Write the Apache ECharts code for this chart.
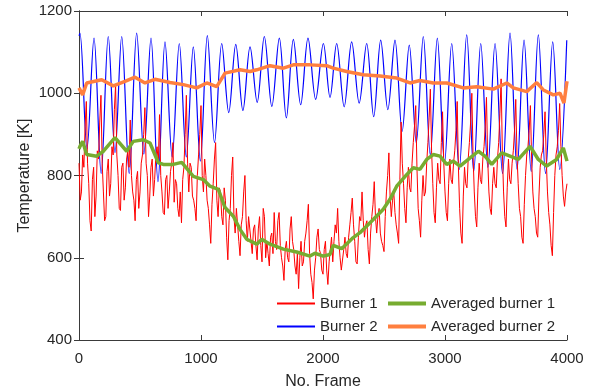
<!DOCTYPE html>
<html>
<head>
<meta charset="utf-8">
<script src="https://cdn.jsdelivr.net/npm/echarts@6/dist/echarts.min.js"></script>
<style>
  html, body { margin: 0; padding: 0; background: #fff; }
  #chart { width: 601px; height: 392px; }
</style>
</head>
<body>
<div id="chart"></div>
<script>
// x ticks / y ticks
const xTicks = [0, 1000, 2000, 3000, 4000]
const yTicks = [400, 600, 800, 1000, 1200]

// Burner 1: one reading every 10 frames (0 .. 4000), 20 readings per row
const burner1Step = 10
const burner1 = [
  830, 740, 760, 850, 820, 920, 980, 830, 780, 690, 665, 790, 820, 700, 750, 860, 840, 930, 995, 830,
  760, 690, 700, 810, 840, 750, 780, 870, 850, 960, 1020, 850, 800, 720, 715, 820, 830, 740, 770, 840,
  860, 820, 935, 800, 760, 740, 690, 790, 810, 720, 760, 830, 850, 900, 965, 830, 800, 700, 750, 820,
  840, 750, 790, 850, 870, 830, 948, 800, 760, 710, 705, 790, 800, 720, 760, 810, 830, 880, 735, 790,
  780, 720, 700, 760, 685, 790, 820, 900, 995, 830, 760, 830, 820, 750, 740, 720, 690, 800, 850, 900,
  970, 800, 760, 840, 800, 740, 720, 680, 635, 730, 780, 840, 880, 740, 700, 770, 760, 700, 680, 770,
  740, 650, 595, 690, 720, 800, 845, 700, 660, 720, 720, 640, 605, 680, 700, 760, 800, 690, 640, 700,
  700, 640, 610, 670, 680, 630, 595, 670, 700, 630, 590, 720, 700, 600, 640, 610, 580, 650, 660, 610,
  710, 640, 620, 690, 710, 630, 600, 580, 545, 620, 640, 600, 590, 670, 700, 640, 620, 580, 560, 610,
  525, 600, 640, 580, 590, 640, 660, 690, 730, 610, 560, 540, 500, 570, 600, 650, 670, 620, 610, 570,
  560, 620, 640, 570, 535, 590, 620, 650, 590, 640, 680, 660, 720, 640, 600, 570, 570, 620, 650, 610,
  600, 650, 680, 710, 745, 680, 640, 590, 585, 650, 700, 690, 760, 690, 650, 680, 690, 620, 585, 660,
  700, 730, 785, 700, 660, 700, 720, 660, 640, 630, 615, 700, 760, 800, 855, 750, 700, 740, 760, 710,
  680, 660, 635, 790, 930, 830, 780, 720, 685, 770, 820, 770, 760, 830, 880, 920, 970, 820, 720, 690,
  650, 740, 800, 750, 760, 830, 880, 940, 1010, 860, 780, 710, 685, 770, 830, 790, 780, 880, 955, 830,
  760, 710, 690, 780, 840, 790, 780, 830, 860, 910, 980, 820, 720, 660, 635, 750, 820, 780, 770, 840,
  880, 930, 1000, 850, 760, 700, 675, 770, 830, 790, 780, 840, 870, 920, 990, 840, 760, 720, 705, 780,
  820, 780, 770, 840, 880, 950, 1035, 860, 760, 700, 675, 770, 840, 790, 780, 830, 860, 910, 985, 850,
  780, 720, 700, 650, 635, 730, 800, 850, 870, 910, 970, 840, 760, 720, 700, 660, 650, 750, 820, 850,
  860, 900, 955, 840, 760, 710, 680, 630, 605, 710, 800, 850, 870, 910, 975, 870, 800, 750, 725, 760,
  780
]

// Burner 2: frames of the crests, crest and trough temperatures
const burner2PeakFrame = [
  8, 123, 240, 350, 473, 590, 705, 822, 937, 1052,
  1170, 1285, 1402, 1519, 1642, 1757, 1877, 2003, 2112, 2235,
  2358, 2473, 2590, 2707, 2822, 2937, 3055, 3178, 3293, 3410,
  3533, 3648, 3765, 3883, 3998
]
const burner2Peak = [
  1146, 1134, 1138, 1138, 1146, 1134, 1125, 1121, 1113, 1140,
  1121, 1119, 1113, 1138, 1134, 1131, 1134, 1121, 1121, 1125,
  1121, 1129, 1129, 1117, 1138, 1134, 1121, 1142, 1121, 1121,
  1146, 1129, 1142, 1125, 1129
]
const burner2Trough = [
  865, 805, 855, 805, 852, 785, 845, 845, 835, 880,
  953, 958, 978, 968, 940, 972, 985, 990, 967, 976,
  943, 960, 907, 880, 850, 830, 815, 810, 820, 805,
  815, 810, 805, 815
]

// Averaged burner 1
const avg1Frame = [
  0, 8, 30, 63, 145, 200, 295, 391, 445, 527,
  582, 650, 691, 773, 842, 937, 1019, 1074, 1142, 1197,
  1265, 1320, 1375, 1457, 1498, 1566, 1675, 1784, 1893, 1934,
  2002, 2057, 2084, 2153, 2248, 2303, 2412, 2494, 2549, 2604,
  2686, 2740, 2795, 2850, 2904, 2959, 3014, 3068, 3123, 3191,
  3273, 3328, 3383, 3465, 3533, 3601, 3697, 3765, 3833, 3915,
  3970, 4000
]
const avg1Temp = [
  865, 871, 883, 851, 847, 859, 892, 859, 883, 887,
  879, 831, 827, 827, 832, 798, 790, 774, 766, 722,
  701, 669, 645, 633, 645, 633, 621, 614, 604, 611,
  604, 608, 630, 622, 649, 661, 693, 718, 742, 774,
  802, 819, 815, 839, 851, 847, 827, 835, 823, 839,
  859, 847, 827, 855, 847, 839, 871, 839, 823, 839,
  867, 835
]

// Averaged burner 2
const avg2Frame = [
  0, 30, 63, 186, 281, 377, 459, 541, 623, 746,
  855, 965, 1047, 1129, 1197, 1320, 1402, 1457, 1566, 1675,
  1757, 1893, 2030, 2084, 2194, 2330, 2467, 2604, 2713, 2795,
  2904, 3014, 3150, 3260, 3396, 3506, 3560, 3670, 3752, 3806,
  3888, 3943, 3975, 4000
]
const avg2Temp = [
  1013, 996, 1025, 1033, 1018, 1029, 1039, 1025, 1034, 1026,
  1021, 1013, 1025, 1016, 1049, 1057, 1053, 1057, 1067, 1061,
  1069, 1069, 1067, 1061, 1053, 1045, 1042, 1037, 1025, 1031,
  1025, 1025, 1013, 1016, 1010, 1025, 1013, 1004, 1026, 1008,
  996, 1000, 976, 1029
]

const FONT = '"Liberation Sans", Arial, Helvetica, sans-serif'
const AXIS_COLOR = '#3a3a3a'
const TEXT_COLOR = '#262626'

// build [frame, value] pairs
const burner1Data = burner1.map((v, i) => [i * burner1Step, v])
const burner2Data = [[0, 1140]]
burner2PeakFrame.forEach((f, i) => {
  burner2Data.push([f, burner2Peak[i]])
  if (i < burner2Trough.length) {
    // trough lies half way to the next crest
    burner2Data.push([(f + burner2PeakFrame[i + 1]) / 2, burner2Trough[i]])
  }
})
const avg1Data = avg1Frame.map((f, i) => [f, avg1Temp[i]])
const avg2Data = avg2Frame.map((f, i) => [f, avg2Temp[i]])

const chart = echarts.init(document.getElementById('chart'), null, { renderer: 'canvas' })

const baseAxis = {
  axisLine: { show: true, lineStyle: { color: AXIS_COLOR, width: 1 } },
  axisTick: { show: true, inside: true, length: 5, lineStyle: { color: AXIS_COLOR } },
  splitLine: { show: false }
}
const plain = v => String(v)

chart.setOption({
  animation: false,
  backgroundColor: '#fff',
  grid: { left: 79, top: 11, width: 488, height: 329, outerBoundsMode: 'none' },
  legend: [
    {
      data: ['Burner 1', 'Burner 2'],
      orient: 'vertical',
      left: 277,
      top: 296,
      padding: 0,
      itemWidth: 38,
      itemHeight: 2,
      itemGap: 8,
      icon: 'rect',
      selectedMode: false,
      textStyle: { fontFamily: FONT, fontSize: 15, lineHeight: 15, color: TEXT_COLOR }
    },
    {
      data: ['Averaged burner 1', 'Averaged burner 2'],
      orient: 'vertical',
      left: 388,
      top: 296,
      padding: 0,
      itemWidth: 38,
      itemHeight: 4,
      itemGap: 8,
      icon: 'rect',
      selectedMode: false,
      textStyle: { fontFamily: FONT, fontSize: 15, lineHeight: 15, color: TEXT_COLOR }
    }
  ],
  xAxis: [
    Object.assign({}, baseAxis, {
      type: 'value',
      min: xTicks[0],
      max: xTicks[xTicks.length - 1],
      interval: 1000,
      name: 'No. Frame',
      nameLocation: 'middle',
      nameGap: 34,
      nameMoveOverlap: false,
      nameTextStyle: { fontFamily: FONT, fontSize: 16, color: TEXT_COLOR },
      axisLabel: { margin: 11, formatter: plain, fontFamily: FONT, fontSize: 15, color: TEXT_COLOR }
    }),
    Object.assign({}, baseAxis, {
      type: 'value',
      position: 'top',
      min: xTicks[0],
      max: xTicks[xTicks.length - 1],
      interval: 1000,
      axisLabel: { show: false }
    })
  ],
  yAxis: [
    Object.assign({}, baseAxis, {
      type: 'value',
      min: yTicks[0],
      max: yTicks[yTicks.length - 1],
      interval: 200,
      name: 'Temperature [K]',
      nameLocation: 'middle',
      nameGap: 46,
      nameMoveOverlap: false,
      nameTextStyle: { fontFamily: FONT, fontSize: 16, color: TEXT_COLOR },
      axisLabel: { margin: 7, formatter: plain, fontFamily: FONT, fontSize: 15, color: TEXT_COLOR }
    }),
    Object.assign({}, baseAxis, {
      type: 'value',
      position: 'right',
      min: yTicks[0],
      max: yTicks[yTicks.length - 1],
      interval: 200,
      axisLabel: { show: false }
    })
  ],
  series: [
    {
      name: 'Burner 2',
      type: 'line',
      data: burner2Data,
      showSymbol: false,
      smooth: 0.35,
      color: '#0000ff',
      lineStyle: { width: 1.2, color: '#0000ff' },
      z: 2
    },
    {
      name: 'Burner 1',
      type: 'line',
      data: burner1Data,
      showSymbol: false,
      color: '#ff0000',
      lineStyle: { width: 1, color: '#ff0000' },
      z: 3
    },
    {
      name: 'Averaged burner 1',
      type: 'line',
      data: avg1Data,
      showSymbol: false,
      color: '#77ac30',
      lineStyle: { width: 3.5, color: '#77ac30' },
      z: 4
    },
    {
      name: 'Averaged burner 2',
      type: 'line',
      data: avg2Data,
      showSymbol: false,
      color: '#ff7f3f',
      lineStyle: { width: 3.5, color: '#ff7f3f' },
      z: 5
    }
  ]
})
</script>
</body>
</html>
